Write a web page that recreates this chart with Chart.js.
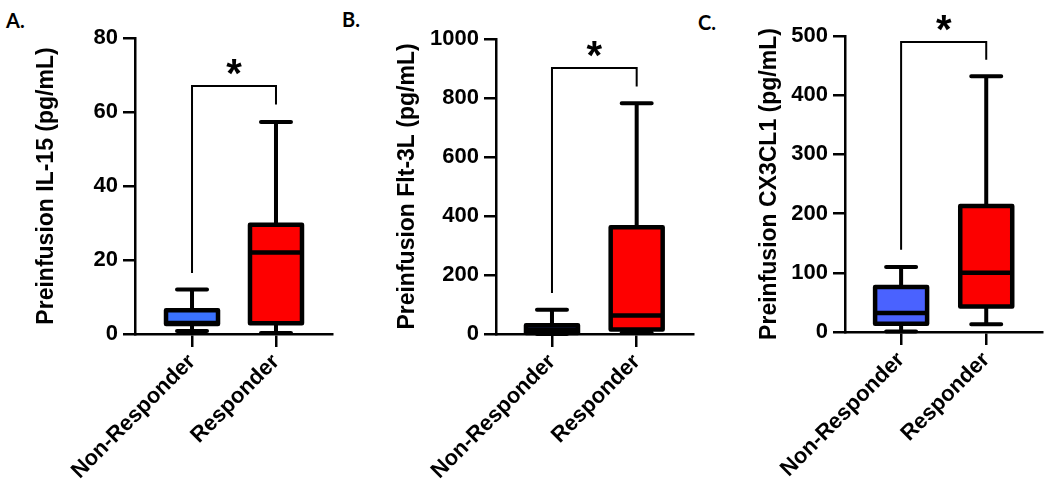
<!DOCTYPE html>
<html>
<head>
<meta charset="utf-8">
<script src="https://cdn.jsdelivr.net/npm/chart.js@4.4.1/dist/chart.umd.min.js"></script>
<style>
  html, body { margin: 0; padding: 0; background: #fff; }
  body { width: 1050px; height: 494px; position: relative; overflow: hidden; }
  canvas { position: absolute; top: 0; }
  .tag { position: absolute; font-family: Lato, 'Liberation Sans', sans-serif; font-weight: bold; font-size: 20px; line-height: 20px; color: #000; }
</style>
</head>
<body>
<div class="tag" style="left:6px; top:10px;">A.</div>
<div class="tag" style="left:342px; top:9px;">B.</div>
<div class="tag" style="left:698px; top:12px;">C.</div>
<canvas id="chartA" width="345" height="494" style="left:0px"></canvas>
<canvas id="chartB" width="355" height="494" style="left:345px"></canvas>
<canvas id="chartC" width="350" height="494" style="left:700px"></canvas>
<script>
const groups = ['Non-Responder', 'Responder'];

// IL-15 (pg/mL)
const il15Ticks = [0, 20, 40, 60, 80];
const il15Min = [0.8, 0.3];
const il15Q1 = [2.7, 2.9];
const il15Median = [3.0, 22];
const il15Q3 = [6.4, 29.5];
const il15Max = [12, 57.3];
const il15Bracket = [67, 16.5, 62]; // top, left end, right end

// Flt-3L (pg/mL)
const flt3Ticks = [0, 200, 400, 600, 800, 1000];
const flt3Min = [0, 4];
const flt3Q1 = [3, 15];
const flt3Median = [15, 63];
const flt3Q3 = [30, 362];
const flt3Max = [82, 782];
const flt3Bracket = [902, 139, 839];

// CX3CL1 (pg/mL)
const cx3Ticks = [0, 100, 200, 300, 400, 500];
const cx3Min = [1, 13];
const cx3Q1 = [14, 43];
const cx3Median = [32, 100];
const cx3Q3 = [76, 213];
const cx3Max = [110, 432];
const cx3Bracket = [490, 139, 460];

const FONT = "'Liberation Sans', Arial, sans-serif";

// whiskers, box outlines, medians and the significance bracket
const boxExtras = {
    id: 'boxExtras',
    beforeDatasetsDraw(chart, args, opts) {
        const { ctx, scales: { x, y } } = chart;
        ctx.save();
        ctx.strokeStyle = '#000';
        ctx.lineWidth = 4;
        ctx.lineCap = 'round';
        groups.forEach((g, i) => {
            const px = x.getPixelForValue(i);
            ctx.beginPath();
            ctx.moveTo(px, y.getPixelForValue(opts.q3[i]));
            ctx.lineTo(px, y.getPixelForValue(opts.max[i]));
            ctx.moveTo(px, y.getPixelForValue(opts.q1[i]));
            ctx.lineTo(px, y.getPixelForValue(opts.min[i]));
            ctx.moveTo(px - 15, y.getPixelForValue(opts.max[i]));
            ctx.lineTo(px + 15, y.getPixelForValue(opts.max[i]));
            ctx.moveTo(px - 15, y.getPixelForValue(opts.min[i]));
            ctx.lineTo(px + 15, y.getPixelForValue(opts.min[i]));
            ctx.stroke();
        });
        ctx.restore();
    },
    afterDatasetsDraw(chart, args, opts) {
        const { ctx, scales: { x, y } } = chart;
        const bars = chart.getDatasetMeta(0).data;
        ctx.save();
        ctx.strokeStyle = '#000';
        ctx.lineWidth = 4.5;
        ctx.lineJoin = 'round';
        bars.forEach((bar, i) => {
            const { x: bx, y: by, base, width } = bar.getProps(['x', 'y', 'base', 'width'], true);
            const py = y.getPixelForValue(opts.median[i]);
            ctx.beginPath();
            ctx.moveTo(bx - width / 2, py);
            ctx.lineTo(bx + width / 2, py);
            ctx.stroke();
            ctx.strokeRect(bx - width / 2, Math.min(by, base), width, Math.abs(base - by));
        });

        // bracket with star
        const [top, leftEnd, rightEnd] = opts.bracket;
        const x0 = x.getPixelForValue(0);
        const x1 = x.getPixelForValue(1);
        const yt = y.getPixelForValue(top);
        ctx.lineWidth = 2;
        ctx.lineCap = 'butt';
        ctx.lineJoin = 'miter';
        ctx.beginPath();
        ctx.moveTo(x0, y.getPixelForValue(leftEnd));
        ctx.lineTo(x0, yt);
        ctx.lineTo(x1, yt);
        ctx.lineTo(x1, y.getPixelForValue(rightEnd));
        ctx.stroke();

        ctx.font = 'bold 40px ' + FONT;
        ctx.fillStyle = '#000';
        ctx.textAlign = 'center';
        ctx.textBaseline = 'alphabetic';
        const m = ctx.measureText('*');
        const cy = yt - 19;
        ctx.fillText('*', (x0 + x1) / 2, cy + (m.actualBoundingBoxAscent - m.actualBoundingBoxDescent) / 2);
        ctx.restore();
    }
};

function makePanel(id, p) {
    const ctx = document.getElementById(id).getContext('2d');
    return new Chart(ctx, {
        type: 'bar',
        data: {
            datasets: [{
                data: groups.map((g, i) => ({ x: i, y: [p.q1[i], p.q3[i]] })),
                backgroundColor: p.colors,
                borderWidth: 0,
                barThickness: 52
            }]
        },
        options: {
            responsive: false,
            animation: false,
            devicePixelRatio: 1,
            layout: { padding: { left: 0, top: p.padTop, right: p.padRight, bottom: 0 } },
            plugins: {
                legend: { display: false },
                tooltip: { enabled: false },
                boxExtras: {
                    q1: p.q1, q3: p.q3, median: p.median, min: p.min, max: p.max,
                    bracket: p.bracket
                }
            },
            scales: {
                x: {
                    type: 'linear',
                    offset: false,
                    min: p.xMin,
                    max: p.xMax,
                    afterBuildTicks: (scale) => { scale.ticks = groups.map((g, i) => ({ value: i })); },
                    afterFit: (scale) => { scale.height = p.xHeight; },
                    border: { color: '#000', width: 2.5 },
                    grid: { offset: false, drawOnChartArea: false, drawTicks: true, tickLength: 13, color: '#000', lineWidth: 2.5 },
                    ticks: {
                        autoSkip: false,
                        minRotation: 45,
                        maxRotation: 45,
                        padding: 2,
                        color: '#000',
                        font: { family: FONT, size: 22, weight: 'bold' },
                        callback: (v) => groups[Math.round(v)]
                    }
                },
                y: {
                    min: p.ticks[0],
                    max: p.ticks[p.ticks.length - 1],
                    afterBuildTicks: (scale) => { scale.ticks = p.ticks.map(v => ({ value: v })); },
                    afterFit: (scale) => { scale.width = p.yWidth; },
                    border: { color: '#000', width: 2.5 },
                    grid: { drawOnChartArea: false, drawTicks: true, tickLength: 12, color: '#000', lineWidth: 2.5 },
                    ticks: {
                        padding: 5,
                        color: '#000',
                        font: { family: FONT, size: 22, weight: 'bold' },
                        callback: (v) => String(v)
                    },
                    title: {
                        display: true,
                        text: p.title,
                        color: '#000',
                        padding: { top: p.titlePad, bottom: 0 },
                        font: { family: FONT, size: 23, weight: 'bold' }
                    }
                }
            }
        },
        plugins: [boxExtras]
    });
}

makePanel('chartA', {
    title: 'Preinfusion IL-15 (pg/mL)',
    ticks: il15Ticks, min: il15Min, q1: il15Q1, median: il15Median, q3: il15Q3, max: il15Max,
    bracket: il15Bracket, colors: ['#3a72ff', '#fe0000'],
    padTop: 38, padRight: 13, yWidth: 135, xHeight: 160, titlePad: 33, xMin: -0.679, xMax: 1.667
});

makePanel('chartB', {
    title: 'Preinfusion Flt-3L (pg/mL)',
    ticks: flt3Ticks, min: flt3Min, q1: flt3Q1, median: flt3Median, q3: flt3Q3, max: flt3Max,
    bracket: flt3Bracket, colors: ['#3a60ff', '#fe0000'],
    padTop: 39, padRight: 7, yWidth: 151, xHeight: 160, titlePad: 49, xMin: -0.661, xMax: 1.665
});

makePanel('chartC', {
    title: 'Preinfusion CX3CL1 (pg/mL)',
    ticks: cx3Ticks, min: cx3Min, q1: cx3Q1, median: cx3Median, q3: cx3Q3, max: cx3Max,
    bracket: cx3Bracket, colors: ['#4a62ff', '#fc0000'],
    padTop: 36, padRight: 8, yWidth: 145, xHeight: 162, titlePad: 56, xMin: -0.659, xMax: 1.655
});
</script>
</body>
</html>
